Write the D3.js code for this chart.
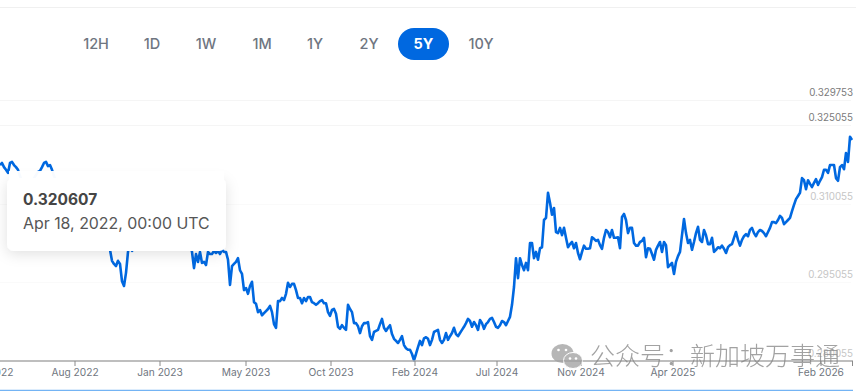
<!DOCTYPE html>
<html>
<head>
<meta charset="utf-8">
<script src="https://cdn.jsdelivr.net/npm/d3@7/dist/d3.min.js"></script>
<style>
html,body{margin:0;padding:0;background:#fff;overflow:hidden}
svg{display:block;font-family:Inter,"Noto Sans",sans-serif}
</style>
</head>
<body>
<div id="chart"></div>
<script>
const ranges = ["12H","1D","1W","1M","1Y","2Y","5Y","10Y"];
const activeRange = "5Y";
const gridLabels = ["0.329753","0.325055","0.310055","0.295055","0.280055"];
const gridValues = [329.753,325.055,310.055,295.055,280.055];
const tickLabels = ["Mar 2022","Aug 2022","Jan 2023","May 2023","Oct 2023","Feb 2024","Jul 2024","Nov 2024","Apr 2025","Feb 2026"];
const tickSessions = [-5,37.5,80,123,165.5,207.5,248.5,290.5,336.5,410.5];
const tooltipValue = "0.320607";
const tooltipDate = "Apr 18, 2022, 00:00 UTC";
const watermark = "公众号：新加坡万事通";
// rate in thousandths, one sample per session step
const rates = [
317.4,317.8,317.0,316.5,315.9,317.8,318.0,317.4,317.0,316.5,
315.3,314.2,313.4,314.5,313.6,312.6,313.8,314.9,315.5,316.1,
316.3,317.0,317.8,318.0,317.2,317.4,316.5,
315.3,314.5,313.4,312.2,311.1,311.7,310.2,309.2,310.0,308.4,307.3,306.5,305.4,305.8,304.6,303.5,304.0,305.4,304.4,303.1,302.1,303.5,302.5,301.5,302.3,303.1,302.1,301.7,
301.2,299.1,298.5,298.1,299.1,298.5,295.2,294.3,296.8,300.8,303.1,301.0,301.5,
303.5,304.6,303.8,305.4,306.5,305.8,307.3,308.4,307.7,308.8,309.6,308.4,306.9,307.9,306.1,305.0,305.8,304.2,303.1,303.8,302.3,303.5,304.6,303.1,302.0,302.7,301.7,302.3,
300.8,297.7,300.4,298.9,300.8,298.7,298.9,298.3,300.8,300.4,300.4,301.0,300.6,301.0,300.4,301.2,300.8,300.8,
299.3,294.5,298.1,298.5,298.9,299.6,297.3,296.6,293.5,293.9,292.8,294.3,295.1,291.2,290.9,289.3,289.7,288.7,289.1,289.5,289.9,290.5,
289.3,287.0,286.3,291.4,291.4,292.0,291.6,292.8,294.9,294.1,294.7,294.7,293.5,292.0,292.0,291.0,292.0,291.4,292.2,292.2,291.2,291.0,290.7,291.0,291.4,291.6,291.0,291.0,
289.3,288.6,289.7,289.9,289.0,286.5,286.1,286.8,286.3,285.9,290.7,289.9,289.3,287.2,287.2,286.6,285.3,286.6,287.2,287.2,287.4,284.7,
284.0,285.5,285.7,285.9,287.0,288.0,286.3,285.7,286.3,286.8,285.1,284.2,283.8,283.4,284.0,284.7,283.0,282.4,282.1,282.1,281.3,280.1,
281.3,282.6,283.8,283.0,284.3,284.5,284.2,283.0,284.0,285.5,285.7,285.9,284.0,283.4,284.0,285.3,284.0,284.7,285.3,286.3,285.1,284.7,
285.3,285.9,286.5,287.2,288.0,287.6,286.5,287.4,286.8,285.9,287.8,287.2,286.1,287.0,287.4,288.0,288.2,287.4,286.5,286.3,286.8,287.6,287.4,286.8,287.6,288.4,
290.7,294.1,299.6,295.8,299.6,298.3,297.3,298.7,297.3,302.5,302.5,299.6,300.8,299.3,301.5,301.7,306.9,307.3,
312.1,310.2,307.9,309.2,304.6,304.4,305.4,304.0,305.4,303.5,301.7,302.3,302.7,301.5,302.5,300.6,299.4,300.8,302.0,301.4,301.4,301.5,
303.6,303.3,302.9,303.1,302.1,301.4,303.5,305.0,304.6,303.6,305.0,303.5,303.5,303.6,301.5,307.5,308.05,306.9,304.4,305.4,305.4,302.5,
302.0,302.0,302.7,302.9,303.5,299.8,301.5,301.4,300.4,299.3,301.2,302.0,302.7,300.8,302.7,302.1,297.9,298.3,298.7,296.6,298.9,300.0,
300.8,304.0,307.1,304.4,302.5,303.1,301.2,302.7,304.4,305.6,303.1,302.7,305.0,304.0,302.3,302.3,303.5,300.8,301.2,301.7,301.5,302.0,
301.4,300.6,301.7,302.1,302.3,303.5,304.6,303.1,302.0,303.1,303.8,304.2,303.8,305.0,305.4,304.4,303.8,304.6,305.0,304.8,304.4,303.8,
304.6,305.4,306.5,306.5,306.3,306.9,307.7,307.3,306.1,306.5,306.9,307.3,308.6,309.8,310.9,311.5,312.1,314.9,314.5,312.8,314.5,313.8,
313.2,314.0,314.7,313.6,314.4,315.1,316.5,316.5,315.9,317.4,317.4,317.4,314.9,314.4,317.0,317.4,316.6,319.7,318.0,322.8,322.2
];

const W = 867, H = 391;
const svg = d3.select("#chart").append("svg").attr("width", W).attr("height", H);

const x = d3.scaleLinear().domain([0, rates.length - 1]).range([0, 852]);
const y = d3.scaleLinear().domain([280.055, 325.055]).range([360.5, 125]);

// frame rules
svg.append("line").attr("x1",0).attr("x2",856).attr("y1",7.5).attr("y2",7.5).attr("stroke","#f0f0f0");
svg.append("line").attr("x1",0).attr("x2",853).attr("y1",390.5).attr("y2",390.5).attr("stroke","#74b4f4").attr("stroke-width",1.5);

// range buttons
const bx = d3.scaleOrdinal().domain(ranges).range([96,152,206,262,315,369,423.5,481]);
const btn = svg.append("g").selectAll("g").data(ranges).join("g")
  .attr("transform", d => `translate(${bx(d)},44)`);
btn.filter(d => d===activeRange).append("rect")
  .attr("x",-25.5).attr("y",-16).attr("width",51).attr("height",32).attr("rx",16).attr("fill","#0068e0");
btn.append("text").text(d => d).attr("text-anchor","middle").attr("dy","0.36em")
  .attr("font-size",14.5).attr("font-weight",d => d===activeRange?700:500)
  .attr("fill",d => d===activeRange?"#ffffff":"#6f7681");

// grid
svg.append("g").selectAll("line").data(gridValues.slice(0,4)).join("line")
  .attr("x1",0).attr("x2",851)
  .attr("y1",d => Math.round(y(d))+0.5).attr("y2",d => Math.round(y(d))+0.5)
  .attr("stroke",(d,i) => i<2?"#f5f5f5":"#fafafa");
svg.append("g").selectAll("text").data(gridValues).join("text")
  .text((d,i) => gridLabels[i])
  .attr("x",853).attr("y",d => y(d)-4).attr("text-anchor","end")
  .attr("font-size",9.8).attr("fill",(d,i) => i<2?"#7b7b7b":"#c6c6c6");

// series
const line = d3.line().x((d,i) => x(i)).y(d => y(d)).curve(d3.curveLinear);
svg.append("path").datum(rates).attr("d",line).attr("fill","none")
  .attr("stroke","#0068e0").attr("stroke-width",2.6).attr("stroke-linejoin","round");

// axis
const axisG = svg.append("g").attr("transform","translate(0,361)");
axisG.append("line").attr("x1",0).attr("x2",853).attr("stroke","#a9a9a9").attr("stroke-width",1.5);
const tick = axisG.selectAll("g").data(tickSessions).join("g")
  .attr("transform",d => `translate(${x(d)},0)`);
tick.append("line").attr("y2",5).attr("stroke","#8a8a8a");
tick.append("text").text((d,i) => tickLabels[i]).attr("y",15).attr("text-anchor","middle")
  .attr("font-size",10.2).attr("fill","#707680");
axisG.append("line").attr("x1",852.5).attr("x2",852.5).attr("y2",5).attr("stroke","#8a8a8a");

// tooltip
const defs = svg.append("defs");
const f = defs.append("filter").attr("id","sh").attr("x","-20%").attr("y","-30%").attr("width","140%").attr("height","170%");
f.append("feDropShadow").attr("dx",0).attr("dy",3).attr("stdDeviation",7).attr("flood-color","#000").attr("flood-opacity",0.12);
svg.append("rect").attr("x",7).attr("y",178).attr("width",219).attr("height",73).attr("rx",7).attr("fill","#fff").attr("filter","url(#sh)");
svg.append("rect").attr("x",9).attr("y",171).attr("width",215).attr("height",20).attr("fill","#fff").attr("opacity",0.97);
svg.append("text").text(tooltipValue).attr("x",23).attr("y",205).attr("font-size",15.5).attr("font-weight",700).attr("fill","#454545");
svg.append("text").text(tooltipDate).attr("x",23).attr("y",229).attr("font-size",15.9).attr("fill","#565656");

// watermark
const wm = svg.append("g").attr("opacity",0.76);
wm.append("ellipse").attr("cx",562.5).attr("cy",353.5).attr("rx",11).attr("ry",9.5).attr("fill","#a0a0a0");
wm.append("ellipse").attr("cx",573).attr("cy",360.5).attr("rx",9.5).attr("ry",8).attr("fill","#a0a0a0").attr("stroke","#fff");
[[558.5,350],[566,350],[570,358.5],[576,358.5]].forEach(p =>
  wm.append("circle").attr("cx",p[0]).attr("cy",p[1]).attr("r",1.3).attr("fill","#fff"));
wm.append("text").text(watermark).attr("x",590).attr("y",365).attr("font-size",25)
  .attr("font-family",'"Noto Sans CJK SC"').attr("font-weight",300).attr("fill","#858585");
</script>
</body>
</html>
